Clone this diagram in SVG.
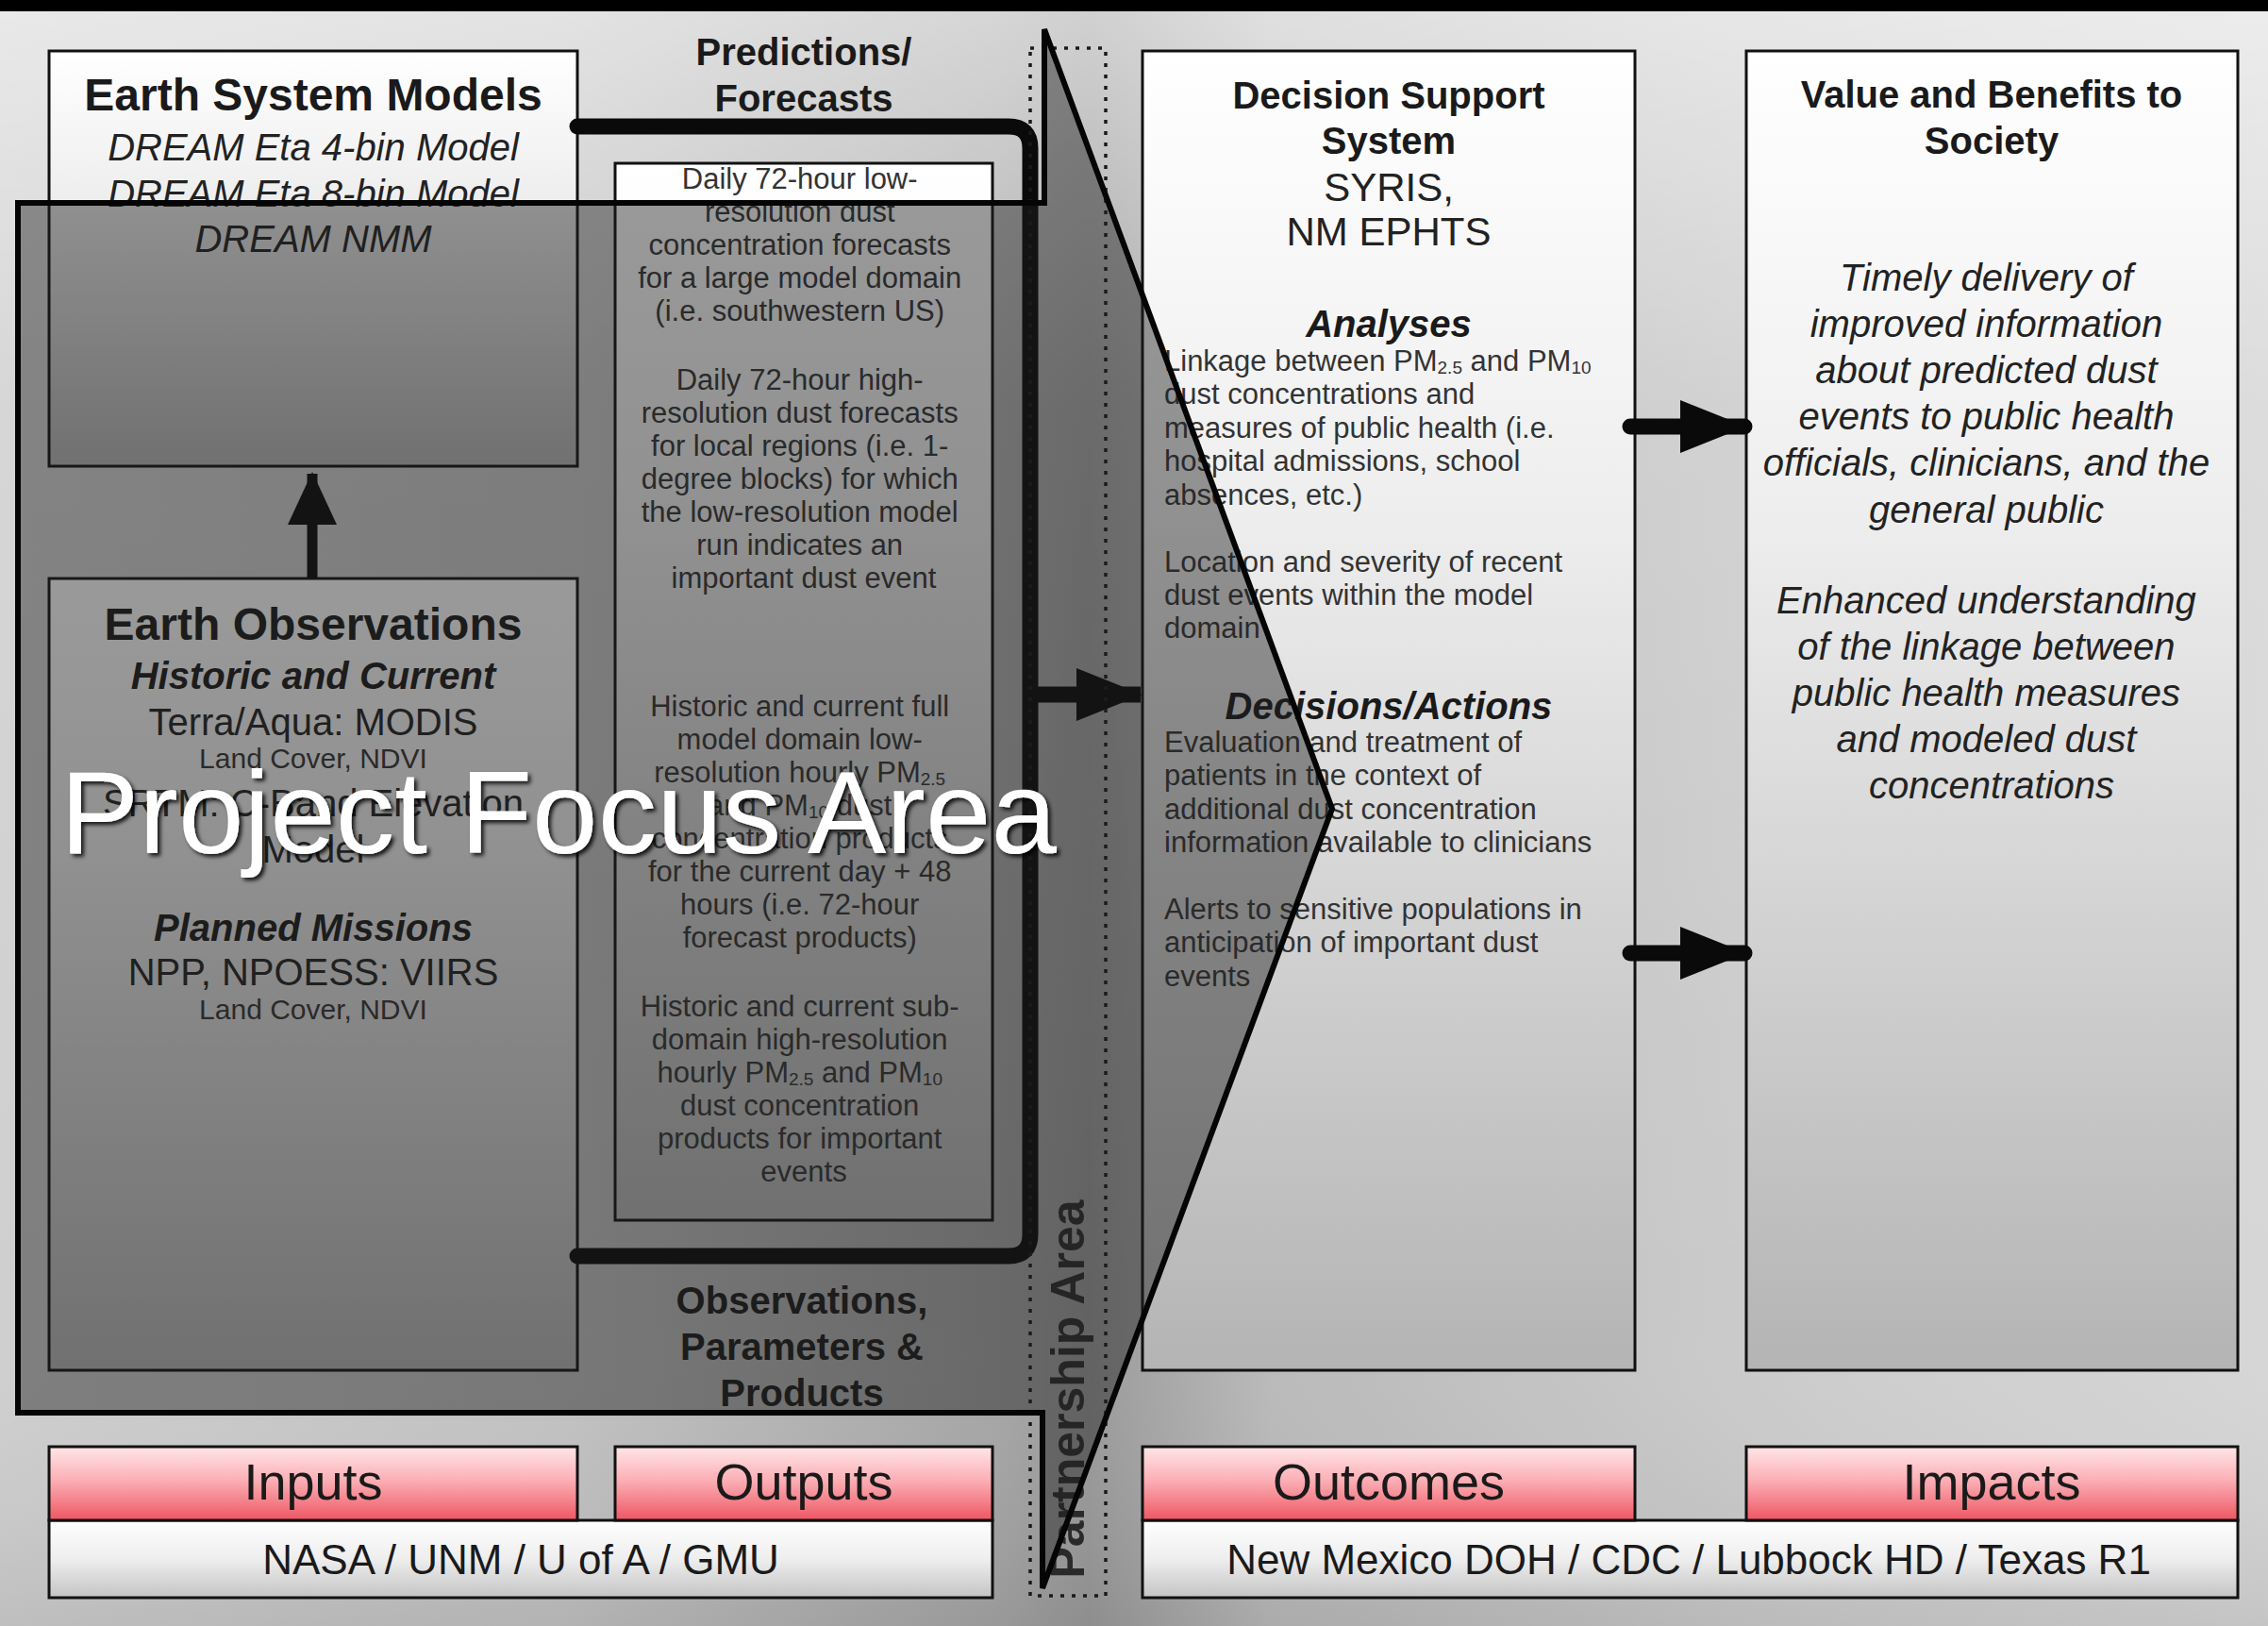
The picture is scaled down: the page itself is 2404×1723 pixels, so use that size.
<svg xmlns="http://www.w3.org/2000/svg" width="2404" height="1723" viewBox="0 0 2404 1723">
  <defs>
    <style>
      text { font-family: "Liberation Sans", Arial, Helvetica, sans-serif; }
      .title { font-size: 48px; font-weight: bold; fill: #1a1a1a; text-anchor: middle; }
      .hdr { font-size: 40px; font-weight: bold; fill: #1a1a1a; text-anchor: middle; }
      .hdri { font-size: 40px; font-weight: bold; font-style: italic; fill: #1a1a1a; text-anchor: middle; }
      .reg { font-size: 40px; fill: #222; text-anchor: middle; }
      .ital { font-size: 40px; font-style: italic; fill: #222; text-anchor: middle; }
      .note { font-size: 30px; fill: #333; text-anchor: middle; }
      .small { font-size: 31px; fill: #333; text-anchor: middle; }
      .left { font-size: 31px; fill: #333; text-anchor: start; }
      .sb { font-size: 19px; }
      .lbl { font-size: 54px; fill: #1a1a1a; text-anchor: middle; }
      .partner { font-size: 44px; fill: #1a1a1a; text-anchor: middle; }
      .box { fill: url(#boxFill); stroke: #111; stroke-width: 3; }
      .pink { fill: url(#pinkFill); stroke: #111; stroke-width: 3; }
      .bar { fill: url(#barFill); stroke: #111; stroke-width: 3; }
      .thick { fill: none; stroke: #0a0a0a; stroke-width: 17; stroke-linecap: round; stroke-linejoin: round; }
      .focus { font-size: 125px; fill: #ffffff; filter: url(#textShadow); }
    </style>
    <linearGradient id="bgH" x1="0" y1="0" x2="1" y2="0">
      <stop offset="0" stop-color="#cfcfcf"/>
      <stop offset="0.25" stop-color="#c2c2c2"/>
      <stop offset="0.44" stop-color="#a6a6a6"/>
      <stop offset="0.48" stop-color="#9a9a9a"/>
      <stop offset="0.56" stop-color="#bababa"/>
      <stop offset="0.8" stop-color="#cdcdcd"/>
      <stop offset="1" stop-color="#d6d6d6"/>
    </linearGradient>
    <linearGradient id="bgV" x1="0" y1="0" x2="0" y2="1">
      <stop offset="0" stop-color="#ffffff" stop-opacity="0.55"/>
      <stop offset="0.25" stop-color="#ffffff" stop-opacity="0.15"/>
      <stop offset="0.8" stop-color="#ffffff" stop-opacity="0"/>
      <stop offset="1" stop-color="#000000" stop-opacity="0.08"/>
    </linearGradient>
    <linearGradient id="boxFill" x1="0" y1="0" x2="0" y2="1">
      <stop offset="0" stop-color="#ffffff"/>
      <stop offset="0.35" stop-color="#eeeeee"/>
      <stop offset="1" stop-color="#b4b4b4"/>
    </linearGradient>
    <linearGradient id="pinkFill" x1="0" y1="0" x2="0" y2="1">
      <stop offset="0" stop-color="#ffe6e8"/>
      <stop offset="0.45" stop-color="#fbb0b6"/>
      <stop offset="1" stop-color="#ee5662"/>
    </linearGradient>
    <linearGradient id="barFill" x1="0" y1="0" x2="0" y2="1">
      <stop offset="0" stop-color="#ffffff"/>
      <stop offset="0.5" stop-color="#eeeeee"/>
      <stop offset="1" stop-color="#c4c4c4"/>
    </linearGradient>
    <filter id="textShadow" x="-5%" y="-20%" width="110%" height="140%">
      <feDropShadow dx="3" dy="3" stdDeviation="2" flood-color="#000" flood-opacity="0.85"/>
    </filter>
    <marker id="headWide" markerUnits="userSpaceOnUse" markerWidth="70" markerHeight="56" refX="68" refY="28" orient="auto">
      <path d="M0,0 L70,28 L0,56 Z" fill="#0a0a0a"/>
    </marker>
    <marker id="headNarrow" markerUnits="userSpaceOnUse" markerWidth="56" markerHeight="52" refX="54" refY="26" orient="auto">
      <path d="M0,0 L56,26 L0,52 Z" fill="#0a0a0a"/>
    </marker>
  </defs>

  <!-- backdrop -->
  <rect x="0" y="0" width="2404" height="1723" fill="url(#bgH)"/>
  <rect x="0" y="0" width="2404" height="1723" fill="url(#bgV)"/>
  <rect x="0" y="0" width="2404" height="12" fill="#000"/>

  <!-- Earth System Models -->
  <g id="earth-system-models">
    <rect class="box" x="52" y="54" width="560" height="440"/>
    <text class="title" x="332" y="117">Earth System Models</text>
    <text class="ital" x="332" y="170">DREAM Eta 4-bin Model</text>
    <text class="ital" x="332" y="219">DREAM Eta 8-bin Model</text>
    <text class="ital" x="332" y="267">DREAM NMM</text>
  </g>

  <!-- Earth Observations -->
  <g id="earth-observations">
    <rect class="box" x="52" y="613" width="560" height="839"/>
    <text class="title" x="332" y="678">Earth Observations</text>
    <text class="hdri" x="332" y="730">Historic and Current</text>
    <text class="reg" x="332" y="779">Terra/Aqua: MODIS</text>
    <text class="note" x="332" y="814">Land Cover, NDVI</text>
    <text class="reg" x="332" y="865">SRTM: C-Band Elevation</text>
    <text class="reg" x="332" y="914">Model</text>
    <text class="hdri" x="332" y="997">Planned Missions</text>
    <text class="reg" x="332" y="1044">NPP, NPOESS: VIIRS</text>
    <text class="note" x="332" y="1080">Land Cover, NDVI</text>
  </g>

  <!-- Predictions / Forecasts -->
  <g id="predictions">
    <text class="hdr" x="852" y="69">Predictions/</text>
    <text class="hdr" x="852" y="118">Forecasts</text>
    <rect class="box" x="652" y="173" width="400" height="1120"/>
    <text class="small">
      <tspan x="852" y="200">Daily 72-hour low-</tspan>
      <tspan x="852" y="235">resolution dust</tspan>
      <tspan x="852" y="270">concentration forecasts</tspan>
      <tspan x="852" y="305">for a large model domain</tspan>
      <tspan x="852" y="340">(i.e. southwestern US)</tspan>
      <tspan x="852" y="413">Daily 72-hour high-</tspan>
      <tspan x="852" y="448">resolution dust forecasts</tspan>
      <tspan x="852" y="483">for local regions (i.e. 1-</tspan>
      <tspan x="852" y="518">degree blocks) for which</tspan>
      <tspan x="852" y="553">the low-resolution model</tspan>
      <tspan x="852" y="588">run indicates an</tspan>
      <tspan x="852" y="623">important dust event</tspan>
    </text>
    <text class="small">
      <tspan x="852" y="759">Historic and current full</tspan>
      <tspan x="852" y="794">model domain low-</tspan>
      <tspan x="852" y="829">resolution hourly PM<tspan class="sb" baseline-shift="-3">2.5</tspan></tspan>
      <tspan x="852" y="864">and PM<tspan class="sb" baseline-shift="-3">10</tspan> dust</tspan>
      <tspan x="852" y="899">concentration products</tspan>
      <tspan x="852" y="934">for the current day + 48</tspan>
      <tspan x="852" y="969">hours (i.e. 72-hour</tspan>
      <tspan x="852" y="1004">forecast products)</tspan>
      <tspan x="852" y="1077">Historic and current sub-</tspan>
      <tspan x="852" y="1112">domain  high-resolution</tspan>
      <tspan x="852" y="1147">hourly PM<tspan class="sb" baseline-shift="-3">2.5</tspan> and PM<tspan class="sb" baseline-shift="-3">10</tspan></tspan>
      <tspan x="852" y="1182">dust concentration</tspan>
      <tspan x="852" y="1217">products for important</tspan>
      <tspan x="852" y="1252">events</tspan>
    </text>
  </g>

  <!-- Observations label under the bracket -->
  <g id="observations-label">
    <text class="hdr" x="850" y="1392">Observations,</text>
    <text class="hdr" x="850" y="1441">Parameters &amp;</text>
    <text class="hdr" x="850" y="1490">Products</text>
  </g>

  <!-- Decision Support System -->
  <g id="decision-support">
    <rect class="box" x="1211" y="54" width="522" height="1398"/>
    <text class="hdr" x="1472" y="115">Decision Support</text>
    <text class="hdr" x="1472" y="163">System</text>
    <text class="reg" x="1472" y="213" style="font-size:42px">SYRIS,</text>
    <text class="reg" x="1472" y="260" style="font-size:42px">NM EPHTS</text>
    <text class="hdri" x="1472" y="357">Analyses</text>
    <text class="left">
      <tspan x="1234" y="393">Linkage between PM<tspan class="sb" baseline-shift="-3">2.5</tspan> and PM<tspan class="sb" baseline-shift="-3">10</tspan></tspan>
      <tspan x="1234" y="428">dust concentrations and</tspan>
      <tspan x="1234" y="464">measures of public health (i.e.</tspan>
      <tspan x="1234" y="499">hospital admissions, school</tspan>
      <tspan x="1234" y="535">absences, etc.)</tspan>
      <tspan x="1234" y="606">Location and severity of recent</tspan>
      <tspan x="1234" y="641">dust events within the model</tspan>
      <tspan x="1234" y="676">domain</tspan>
    </text>
    <text class="hdri" x="1472" y="762">Decisions/Actions</text>
    <text class="left">
      <tspan x="1234" y="797">Evaluation and treatment of</tspan>
      <tspan x="1234" y="832">patients in the context of</tspan>
      <tspan x="1234" y="868">additional dust concentration</tspan>
      <tspan x="1234" y="903">information available to clinicians</tspan>
      <tspan x="1234" y="974">Alerts to sensitive populations in</tspan>
      <tspan x="1234" y="1009">anticipation of important dust</tspan>
      <tspan x="1234" y="1045">events</tspan>
    </text>
  </g>

  <!-- Value and Benefits to Society -->
  <g id="value-benefits">
    <rect class="box" x="1851" y="54" width="521" height="1398"/>
    <text class="hdr" x="2111" y="114">Value and Benefits to</text>
    <text class="hdr" x="2111" y="163">Society</text>
    <text class="ital">
      <tspan x="2111" y="308">Timely delivery of</tspan>
      <tspan x="2111" y="357">improved information</tspan>
      <tspan x="2111" y="406">about predicted dust</tspan>
      <tspan x="2111" y="455">events to public health</tspan>
      <tspan x="2111" y="504">officials, clinicians, and the</tspan>
      <tspan x="2111" y="554">general public</tspan>
      <tspan x="2111" y="650">Enhanced understanding</tspan>
      <tspan x="2111" y="699">of the linkage between</tspan>
      <tspan x="2111" y="748">public health measures</tspan>
      <tspan x="2111" y="797">and modeled dust</tspan>
      <tspan x="2111" y="846">concentrations</tspan>
    </text>
  </g>

  <!-- bottom row -->
  <g id="partners-left">
    <rect class="bar" x="52" y="1611" width="1000" height="82"/>
    <text class="partner" x="552" y="1668">NASA / UNM / U of A / GMU</text>
  </g>
  <g id="partners-right">
    <rect class="bar" x="1211" y="1611" width="1161" height="82"/>
    <text class="partner" x="1790" y="1668">New Mexico DOH / CDC / Lubbock HD / Texas R1</text>
  </g>
  <g id="inputs">
    <rect class="pink" x="52" y="1533" width="560" height="78"/>
    <text class="lbl" x="332" y="1589">Inputs</text>
  </g>
  <g id="outputs">
    <rect class="pink" x="652" y="1533" width="400" height="78"/>
    <text class="lbl" x="852" y="1589">Outputs</text>
  </g>
  <g id="outcomes">
    <rect class="pink" x="1211" y="1533" width="522" height="78"/>
    <text class="lbl" x="1472" y="1589">Outcomes</text>
  </g>
  <g id="impacts">
    <rect class="pink" x="1851" y="1533" width="521" height="78"/>
    <text class="lbl" x="2111" y="1589">Impacts</text>
  </g>

  <!-- connectors -->
  <g id="connectors">
    <path class="thick" d="M612,134 H1069 Q1092,134 1092,157 V1308 Q1092,1331 1069,1331 H612"/>
    <path d="M1092,736 H1209" stroke="#0a0a0a" stroke-width="17" fill="none" marker-end="url(#headWide)"/>
    <path d="M331,613 V502" stroke="#0a0a0a" stroke-width="11" fill="none" marker-end="url(#headNarrow)"/>
    <path d="M1728,452 H1849" stroke="#0a0a0a" stroke-width="17" stroke-linecap="round" fill="none" marker-end="url(#headWide)"/>
    <path d="M1728,1010 H1849" stroke="#0a0a0a" stroke-width="17" stroke-linecap="round" fill="none" marker-end="url(#headWide)"/>
  </g>

  <!-- Partnership Area -->
  <g id="partnership-area">
    <rect x="1092" y="51" width="80" height="1640" fill="none" stroke="#1a1a1a" stroke-width="3.5" stroke-dasharray="4 8"/>
    <text transform="translate(1149,1472) rotate(-90)" x="0" y="0" text-anchor="middle" style="font-size:50px;font-weight:bold;fill:#2a2a2a">Partnership Area</text>
  </g>

  <!-- Project Focus Area -->
  <g id="project-focus-area">
    <polygon points="19,215 1107,215 1107,31 1412,857 1105,1683 1105,1497 19,1497" fill="#202020" fill-opacity="0.45" stroke="#050505" stroke-width="6" stroke-linejoin="miter"/>
    <text class="focus" x="64" y="904">Project Focus Area</text>
  </g>
</svg>
